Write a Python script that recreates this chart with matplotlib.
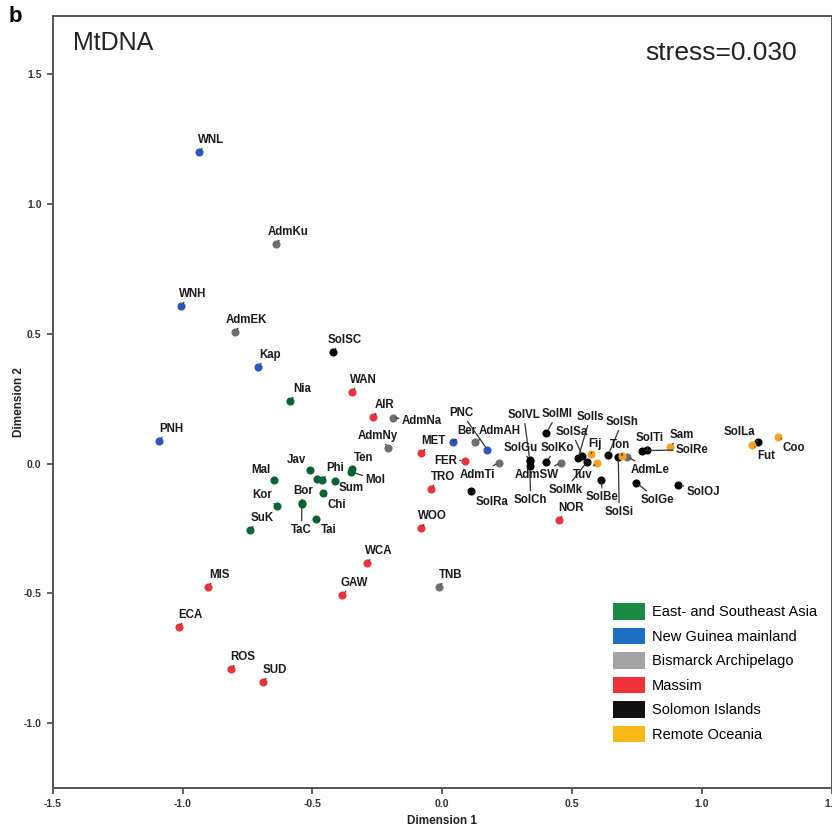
# MDS plot of mtDNA distances between Pacific populations (panel b)
import matplotlib
matplotlib.use('Agg')
import matplotlib.pyplot as plt
from matplotlib.patches import Patch

plt.rcParams['font.family'] = ['Liberation Sans', 'DejaVu Sans']
plt.rcParams['axes.unicode_minus'] = False

# %% data
regions = ['East- and Southeast Asia', 'New Guinea mainland', 'Bismarck Archipelago',
           'Massim', 'Solomon Islands', 'Remote Oceania']

# East- and Southeast Asia
asia_names = ['Mal', 'Jav', 'Phi', '', 'Sum', 'Ten', 'Mol', 'Chi', 'Bor', 'TaC', 'Tai', 'Kor', 'SuK', 'Nia']
asia_d1 = [-0.649, -0.511, -0.464, -0.483, -0.414, -0.349, -0.353, -0.460, -0.541, -0.541, -0.487, -0.637, -0.741, -0.587]
asia_d2 = [-0.062, -0.023, -0.062, -0.058, -0.066, -0.019, -0.031, -0.112, -0.150, -0.154, -0.212, -0.162, -0.254, 0.243]

# New Guinea mainland
ng_names = ['WNL', 'WNH', 'Kap', 'PNH', 'Ber', 'PNC']
ng_d1 = [-0.937, -1.007, -0.710, -1.091, 0.043, 0.174]
ng_d2 = [1.202, 0.609, 0.374, 0.089, 0.085, 0.054]

# Bismarck Archipelago
bis_names = ['AdmKu', 'AdmEK', 'AdmNa', 'AdmNy', 'AdmAH', 'AdmTi', 'AdmSW', 'AdmLe', 'TNB']
bis_d1 = [-0.641, -0.799, -0.191, -0.207, 0.128, 0.218, 0.459, 0.713, -0.014]
bis_d2 = [0.848, 0.509, 0.177, 0.062, 0.085, 0.004, 0.004, 0.027, -0.474]

# Massim
mas_names = ['WAN', 'AIR', 'MET', 'FER', 'TRO', 'NOR', 'WOO', 'WCA', 'GAW', 'MIS', 'ECA', 'ROS', 'SUD']
mas_d1 = [-0.349, -0.268, -0.080, 0.086, -0.045, 0.448, -0.083, -0.291, -0.384, -0.903, -1.015, -0.814, -0.691]
mas_d2 = [0.277, 0.181, 0.042, 0.012, -0.096, -0.216, -0.247, -0.382, -0.505, -0.474, -0.628, -0.790, -0.840]

# Solomon Islands
sol_names = ['SolSC', 'SolRa', 'SolVL', 'SolGu', 'SolCh', 'SolKo', 'SolMI', 'SolIs', 'SolSa', 'SolMk',
             'SolBe', 'SolSh', 'SolSi', 'SolRe', 'SolTi', 'SolGe', 'SolOJ', 'SolLa']
sol_d1 = [-0.422, 0.109, 0.337, 0.337, 0.337, 0.401, 0.401, 0.524, 0.540, 0.559,
          0.613, 0.640, 0.678, 0.770, 0.790, 0.747, 0.909, 1.217]
sol_d2 = [0.432, -0.104, 0.015, 0.012, -0.008, 0.008, 0.119, 0.023, 0.031, 0.008,
          -0.062, 0.035, 0.027, 0.050, 0.054, -0.073, -0.081, 0.085]

# Remote Oceania
rem_names = ['Fij', 'Tuv', 'Ton', 'Sam', 'Fut', 'Coo']
rem_d1 = [0.574, 0.598, 0.693, 0.878, 1.193, 1.294]
rem_d2 = [0.039, 0.004, 0.031, 0.066, 0.073, 0.104]

stress = 0.030

# %% styling
dot_colors = ['#006633', '#2b57b6', '#6e6e6e', '#ec3339', '#000000', '#f6a025']
patch_colors = ['#1b8a43', '#1f6fc5', '#a3a3a3', '#ee3338', '#111111', '#fbb818']

# label offsets in pixels (dx, dy), default up-right
label_off = {
    'AdmNa': (29, -3), 'AdmNy': (-11, 12), 'AdmAH': (24, 11), 'PNC': (-26, 37),
    'FER': (-19, 0), 'AdmTi': (-21, -12), 'SolRa': (21, -11), 'SolVL': (-6, 45),
    'SolGu': (-9, 13), 'SolCh': (1, -34), 'SolKo': (11, 14), 'AdmSW': (-25, -12),
    'SolMI': (11, 19), 'SolSa': (-11, 24), 'SolIs': (12, 41), 'SolMk': (-22, -28),
    'Fij': (4, 10), 'Tuv': (-15, -12), 'SolBe': (1, -17), 'SolSh': (14, 33),
    'Ton': (-2, 11), 'SolSi': (1, -55), 'AdmLe': (23, -13), 'SolTi': (2, 12),
    'SolRe': (50, 1), 'SolGe': (21, -17), 'SolOJ': (25, -7), 'SolLa': (-19, 10),
    'Fut': (14, -11), 'Coo': (16, -11), 'Mal': (-13, 10), 'Jav': (-13, 10),
    'Phi': (13, 12), 'Sum': (16, -7), 'Ten': (12, 11), 'Mol': (25, -8),
    'Chi': (14, -12), 'Bor': (1, 12), 'TaC': (0, -26), 'Tai': (13, -11),
    'Kor': (-15, 11), 'Ber': (13, 11),
}

groups = [
    (asia_names, asia_d1, asia_d2),
    (ng_names, ng_d1, ng_d2),
    (bis_names, bis_d1, bis_d2),
    (mas_names, mas_d1, mas_d2),
    (sol_names, sol_d1, sol_d2),
    (rem_names, rem_d1, rem_d2),
]

# %% plot
fig = plt.figure(figsize=(8.32, 8.27), dpi=100)
ax = fig.add_axes([52.7/832, 39/827, 779/832, 772/827])

for (names, d1, d2), c in zip(groups, dot_colors):
    ax.scatter(d1, d2, s=34, color=c, zorder=3, linewidths=0)
    for n, x, y in zip(names, d1, d2):
        if not n:
            continue
        dx, dy = label_off.get(n, (12, 12))
        ax.annotate(n, (x, y), xytext=(dx, dy), textcoords='offset pixels',
                    ha='center', va='center', fontsize=8.3, fontweight='bold',
                    color='#1a1a1a', zorder=4,
                    arrowprops=dict(arrowstyle='-', color='#333333', lw=0.9,
                                    shrinkA=0, shrinkB=2.5))

ax.set_xlim(-1.5, 1.5)
ax.set_ylim(-1.25, 1.725)
ax.set_xticks([-1.5, -1.0, -0.5, 0.0, 0.5, 1.0, 1.5])
ax.set_yticks([-1.0, -0.5, 0.0, 0.5, 1.0, 1.5])
ax.set_xticklabels(['%.1f' % v for v in ax.get_xticks()])
ax.set_yticklabels(['%.1f' % v for v in ax.get_yticks()])
ax.tick_params(direction='out', length=4, width=1.2, color='#444444',
               labelsize=7.5, labelcolor='#333333', pad=4)
for lab in ax.get_xticklabels() + ax.get_yticklabels():
    lab.set_fontweight('bold')
for sp in ax.spines.values():
    sp.set_color('#555555')
    sp.set_linewidth(1.4)

ax.set_xlabel('Dimension 1', fontsize=8.5, fontweight='bold', color='#222222', labelpad=4)
ax.set_ylabel('Dimension 2', fontsize=8.5, fontweight='bold', color='#222222', labelpad=-1)

ax.text(0.026, 0.965, 'MtDNA', transform=ax.transAxes, fontsize=18,
        va='center', ha='left', color='#222222')
ax.text(0.955, 0.952, 'stress=%.3f' % stress, transform=ax.transAxes, fontsize=19,
        va='center', ha='right', color='#222222')
fig.text(0.010, 0.993, 'b', fontsize=16, fontweight='bold', va='top', ha='left')

handles = [Patch(facecolor=c, edgecolor='none', label=r) for c, r in zip(patch_colors, regions)]
ax.legend(handles=handles, loc='upper left', bbox_to_anchor=(0.719, 0.2396),
          frameon=False, fontsize=10.5, borderpad=0, borderaxespad=0,
          handlelength=2.2, handleheight=1.37, handletextpad=0.5, labelspacing=0.55)

fig.savefig('out.png', dpi=100)
